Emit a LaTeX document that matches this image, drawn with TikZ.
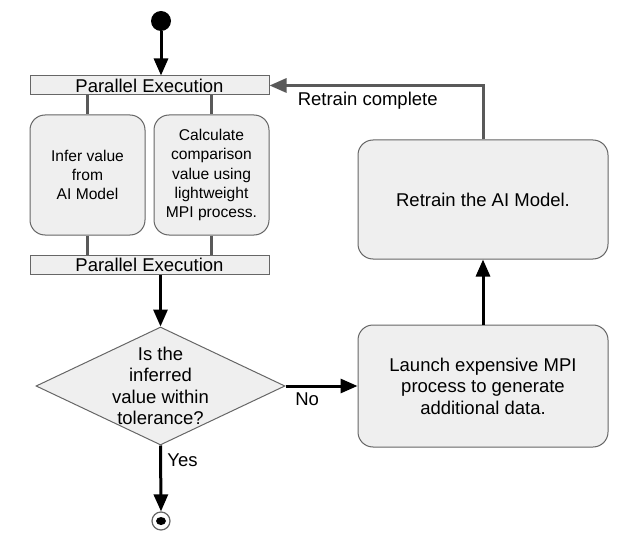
\documentclass[tikz,border=0pt]{standalone}
\usepackage{fontspec}
\setmainfont{Liberation Sans}
\usetikzlibrary{shapes.geometric,arrows.meta}
\definecolor{boxfill}{HTML}{EFEFEF}
\definecolor{boxline}{HTML}{666666}
\definecolor{flowgray}{HTML}{595959}
\begin{document}
\begin{tikzpicture}[x=1pt,y=-1pt,
  font=\fontsize{18.5}{21.5}\selectfont,
  bar/.style={draw=boxline, fill=boxfill, line width=1pt, minimum width=239pt, minimum height=19pt, inner sep=0pt},
  act/.style={draw=boxline, fill=boxfill, line width=1pt, rounded corners=15pt, align=center, inner sep=0pt},
  smallact/.style={act, minimum width=115pt, minimum height=120pt, font=\fontsize{15.6}{19.3}\selectfont},
  dec/.style={draw=boxline, fill=boxfill, line width=1pt, shape=diamond, shape aspect=2.11, minimum width=249pt, minimum height=118pt, inner sep=-12pt, align=center},
  flow/.style={line width=3pt, -{Triangle[length=17pt, width=14pt]}},
  grayflow/.style={line width=3pt, flowgray},
]
\useasboundingbox (0,0) rectangle (637,540);
\node[fill=black, circle, minimum size=20pt, inner sep=0pt] (start) at (161,21) {};
\node[bar] (fork) at (149.5,85.5) {Parallel Execution};
\node[smallact] (infer) at (87.5,175) {Infer value\\from\\AI Model};
\node[smallact] (calc) at (211.5,175) {Calculate\\comparison\\value using\\lightweight\\MPI process.};
\node[bar] (join) at (149.5,265) {Parallel Execution};
\node[dec] (check) at (160.5,386) {Is the\\inferred\\value within\\tolerance?};
\node[act, minimum width=250pt, minimum height=122pt] (launch) at (483,386) {Launch expensive MPI\\process to generate\\additional data.};
\node[act, minimum width=250pt, minimum height=119pt] (retrain) at (483,199.5) {Retrain the AI Model.};
\node[draw=boxline, fill=white, circle, line width=1.2pt, minimum size=18pt, inner sep=0pt] (stop) at (161,521) {};
\fill (stop.center) ellipse (5 and 4);
% fork and join
\draw[grayflow] (fork.south -| infer.north) -- (infer.north);
\draw[grayflow] (fork.south -| calc.north) -- (calc.north);
\draw[grayflow] (infer.south) -- (infer.south |- join.north);
\draw[grayflow] (calc.south) -- (calc.south |- join.north);
% main flow
\draw[flow] (start) -- (start |- fork.north);
\draw[flow] (check.north |- join.south) -- (check.north);
\draw[flow] (check.east) -- (launch.west) node[pos=0.3, below=2pt]{No};
\draw[flow] (check.south) -- (stop.north) node[pos=0.22, right=2pt]{Yes};
\draw[flow] (launch.north) -- (retrain.south);
\draw[grayflow, -{Triangle[length=17pt, width=14pt]}] (retrain.north) |- (fork.east) node[pos=0.77, below=2pt, black]{Retrain complete};
\end{tikzpicture}
\end{document}
